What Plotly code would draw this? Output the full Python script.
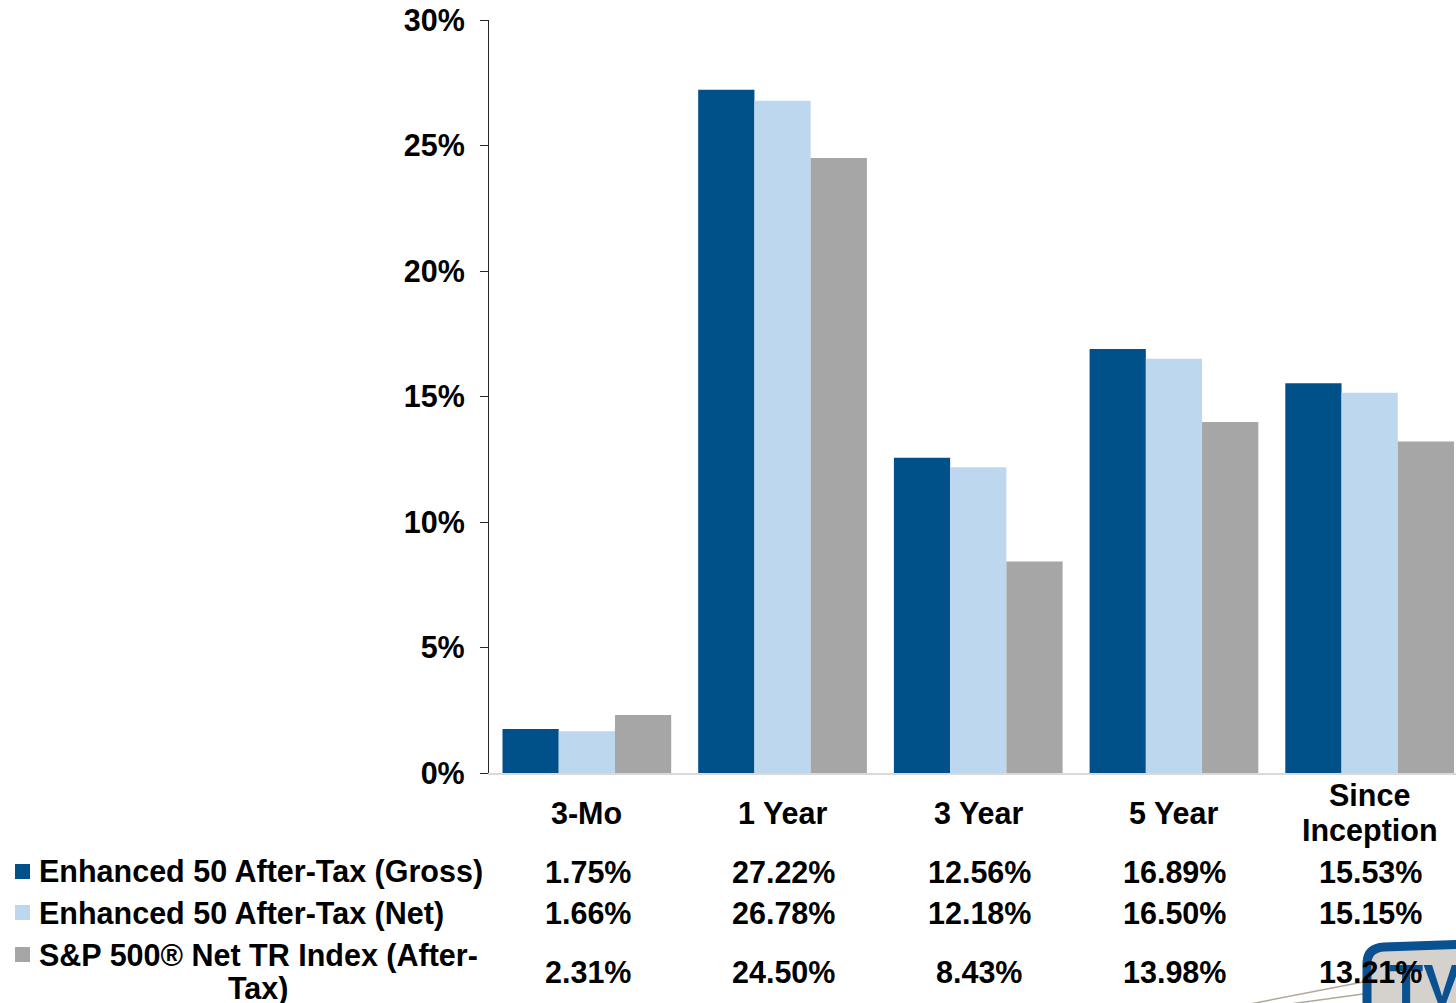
import plotly.graph_objects as go

categories = ["3-Mo", "1 Year", "3 Year", "5 Year", "Since Inception"]
series_names = ["Enhanced 50 After-Tax (Gross)", "Enhanced 50 After-Tax (Net)",
                "S&P 500® Net TR Index (After-Tax)"]
gross = [1.75, 27.22, 12.56, 16.89, 15.53]
net = [1.66, 26.78, 12.18, 16.50, 15.15]
sp500 = [2.31, 24.50, 8.43, 13.98, 13.21]
tick_vals = [0, 5, 10, 15, 20, 25, 30]
tick_text = ["0%", "5%", "10%", "15%", "20%", "25%", "30%"]

colors = ["#00508a", "#bdd7ee", "#a6a6a6"]
series = [gross, net, sp500]

W, H = 1456, 1003
L, R, T, B = 489, 0, 20, 230
plot_h = H - T - B
plot_w = W - L - R
FONT = "Liberation Sans, Arial, sans-serif"
FS = 30.5

def py(p):
    return (H - B - p) / plot_h

def px(p):
    return (p - L) / plot_w

def txt(s, x, y, xref="x", xanchor="center", size=FS, color="#000000"):
    return dict(x=x, y=y, xref=xref, yref="paper", text=f"<b>{s}</b>", showarrow=False,
                xanchor=xanchor, yanchor="middle", font=dict(family=FONT, size=size, color=color))

fig = go.Figure()
for name, vals, c in zip(series_names, series, colors):
    fig.add_trace(go.Bar(x=list(range(len(categories))), y=vals, name=name,
                         marker=dict(color=c, line=dict(width=0)), showlegend=False))

annotations = []
shapes = []

# logo decoration (bottom right, behind the table text)
shapes.append(dict(type="line", xref="paper", yref="paper", x0=px(1250), y0=py(1004),
                   x1=px(1363), y1=py(982), line=dict(color="#b0a898", width=1.5)))
shapes.append(dict(type="line", xref="paper", yref="paper", x0=px(1290), y0=py(1004),
                   x1=px(1363), y1=py(994), line=dict(color="#b0a898", width=1.5)))
shapes.append(dict(type="path", xref="paper", yref="paper",
                   path=f"M {px(1367)},{py(1012)} L {px(1367)},{py(962)} Q {px(1368)},{py(948)} {px(1384)},{py(947)} L {px(1470)},{py(944)} L {px(1470)},{py(1012)} Z",
                   fillcolor="#d5d1cc", line=dict(color="#0a5192", width=9)))
annotations.append(dict(x=px(1387), y=py(1003), xref="paper", yref="paper", text="<b>TV</b>",
                        showarrow=False, xanchor="left", yanchor="bottom", yshift=-14,
                        font=dict(family=FONT, size=56, color="#0a5192")))

# category labels
for i, lab in enumerate(categories):
    words = lab.split(" ")
    if lab == "Since Inception":
        annotations.append(txt(words[0], i, py(795)))
        annotations.append(txt(words[1], i, py(830)))
    else:
        annotations.append(txt(lab, i, py(813)))

# data table
row_y = [872, 913, 972]
for r, (name, vals, c) in enumerate(zip(series_names, series, colors)):
    if r < 2:
        annotations.append(txt(name, px(37), py(row_y[r]), xref="paper", xanchor="left"))
        sw = row_y[r]
    else:
        annotations.append(txt("S&P 500® Net TR Index (After-", px(37), py(955), xref="paper", xanchor="left"))
        annotations.append(txt("Tax)", px(258), py(988), xref="paper"))
        sw = 955
    shapes.append(dict(type="rect", xref="paper", yref="paper",
                       x0=px(15), x1=px(30), y0=py(sw + 7), y1=py(sw - 8),
                       fillcolor=c, line=dict(width=0)))
    for i, v in enumerate(vals):
        annotations.append(txt(f"{v:.2f}%", i + 0.005, py(row_y[r])))

fig.update_layout(
    width=W, height=H, margin=dict(l=L, r=R, t=T, b=B, pad=0),
    paper_bgcolor="white", plot_bgcolor="white",
    barmode="group", bargap=0.138, bargroupgap=0,
    showlegend=False,
    xaxis=dict(range=[-0.5, -0.5 + plot_w / 195.7], showticklabels=False, ticks="",
               showgrid=False, zeroline=False, showline=True, linecolor="#d9d9d9", linewidth=2),
    yaxis=dict(range=[0, 30], tickvals=tick_vals, ticktext=[f"<b>{t}</b>" for t in tick_text],
               showgrid=False, zeroline=False, showline=True, linecolor="#262626", linewidth=1.3,
               ticks="outside", ticklen=8, tickcolor="#262626", tickwidth=1.3,
               ticklabelstandoff=9,
               tickfont=dict(family=FONT, size=FS, color="#000000")),
    annotations=annotations, shapes=shapes,
    font=dict(family=FONT, size=FS, color="#000000"),
)

fig.write_html("out.html", config={"displayModeBar": False},
               post_script="document.body.style.margin='0';document.body.style.overflow='hidden';")
